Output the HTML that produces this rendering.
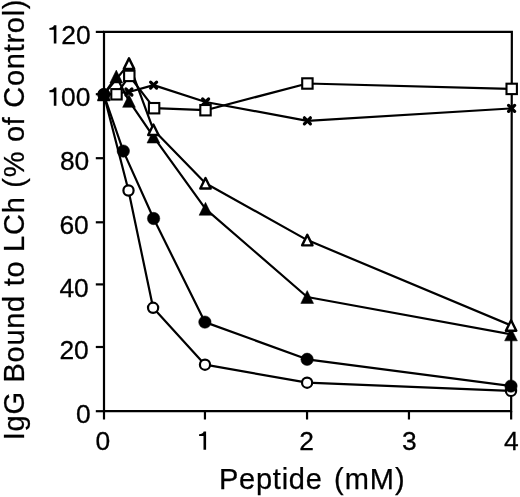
<!DOCTYPE html>
<html><head><meta charset="utf-8"><style>
html,body{margin:0;padding:0;background:#fff;}
body{width:520px;height:497px;overflow:hidden;}
svg{display:block;will-change:transform;}
text{font-family:"Liberation Sans",sans-serif;fill:#000;}
.tl{font-size:26.4px;stroke:#000;stroke-width:0.3px;}
.tt{stroke:#000;stroke-width:0.25px;}
.ln{fill:none;stroke:#000;stroke-width:2.20;stroke-linejoin:round;}
.os{fill:#fff;stroke:#000;stroke-width:2.10;stroke-linejoin:miter;}
.oc{fill:#fff;stroke:#000;stroke-width:2.20;}
.ot{fill:#fff;stroke:#000;stroke-width:2.40;stroke-linejoin:round;}
.fm{fill:#000;stroke:#000;stroke-width:0.5;stroke-linejoin:round;}
.cx{fill:none;stroke:#000;stroke-width:3.20;stroke-linecap:round;}
.ax{fill:none;stroke:#000;stroke-width:2.2;stroke-linecap:butt;}
</style></head><body>
<svg width="520" height="497" viewBox="0 0 520 497">

<path class="ax" d="M104.0 31.9H511.85L511.15 411.1H104.0Z"/>
<path class="ax" d="M95.8 31.9H104.0"/>
<text x="90.6" y="43.5" class="tl" text-anchor="end">20</text>
<path transform="translate(56.40 43.50)" d="M0 -18.3L0 0L-2.6 0L-2.6 -13.7L-7.0 -13.7L-7.0 -15.5C-4.6 -15.6 -3.0 -16.4 -2.4 -18.3Z" fill="#000"/>
<path class="ax" d="M95.8 94.2H104.0"/>
<text x="90.4" y="105.8" class="tl" text-anchor="end">00</text>
<path transform="translate(56.40 105.85)" d="M0 -18.3L0 0L-2.6 0L-2.6 -13.7L-7.0 -13.7L-7.0 -15.5C-4.6 -15.6 -3.0 -16.4 -2.4 -18.3Z" fill="#000"/>
<path class="ax" d="M95.8 158.2H104.0"/>
<text x="89.3" y="169.8" class="tl" text-anchor="end">80</text>
<path class="ax" d="M95.8 222.3H104.0"/>
<text x="88.8" y="233.9" class="tl" text-anchor="end">60</text>
<path class="ax" d="M95.8 284.4H104.0"/>
<text x="88.8" y="296.8" class="tl" text-anchor="end">40</text>
<path class="ax" d="M95.8 347.0H104.0"/>
<text x="88.8" y="358.6" class="tl" text-anchor="end">20</text>
<path class="ax" d="M95.8 411.2H104.0"/>
<text x="90.6" y="422.8" class="tl" text-anchor="end">0</text>
<path class="ax" d="M104.00 411.1V419.5"/>
<text x="102.80" y="449.6" class="tl" text-anchor="middle">0</text>
<path class="ax" d="M204.95 411.1V419.5"/>
<path transform="translate(206.10 449.70)" d="M0 -18.3L0 0L-2.6 0L-2.6 -13.7L-7.0 -13.7L-7.0 -15.5C-4.6 -15.6 -3.0 -16.4 -2.4 -18.3Z" fill="#000"/>
<path class="ax" d="M307.05 411.1V419.5"/>
<text x="306.65" y="449.6" class="tl" text-anchor="middle">2</text>
<path class="ax" d="M408.95 411.1V419.5"/>
<text x="409.25" y="449.6" class="tl" text-anchor="middle">3</text>
<path class="ax" d="M511.15 411.1V419.5"/>
<text x="511.45" y="449.6" class="tl" text-anchor="middle">4</text>
<text x="219" y="489.3" font-size="29" letter-spacing="0.75" class="tt">Peptide</text>
<text x="334" y="489.3" font-size="29" letter-spacing="1" class="tt">(mM)</text>
<text transform="translate(23.5 440.2) rotate(-90)" font-size="29" letter-spacing="0.72" class="tt">IgG Bound to LCh (% of Control)</text>
<g class="ln"><polyline points="103.8,94.5 116.5,94.3 129.3,75.9 154.1,108.2 205.5,110.2 307.4,83.5 511.7,88.9"/></g>
<g class="ln"><polyline points="103.8,94.5 128.9,92.0 153.6,85.1 205.6,102.0 307.4,120.8 511.6,108.4"/></g>
<g class="ln"><polyline points="103.8,94.5 129.0,63.6 153.4,129.8 205.5,183.3 307.3,240.1 511.1,325.5"/></g>
<g class="ln"><polyline points="103.8,94.5 116.3,76.5 129.0,100.9 153.4,136.6 205.5,208.8 307.2,297.0 511.0,334.4"/></g>
<g class="ln"><polyline points="103.8,94.5 123.3,151.1 153.6,218.5 204.9,322.1 307.1,359.3 511.0,386.1"/></g>
<g class="ln"><polyline points="103.8,94.5 128.5,190.5 153.1,307.8 205.0,364.7 307.1,382.7 511.0,390.9"/></g>
<path d="M100.80 91.50L106.80 97.50M106.80 91.50L100.80 97.50" class="cx"/>
<path d="M125.90 89.00L131.90 95.00M131.90 89.00L125.90 95.00" class="cx"/>
<path d="M150.60 82.10L156.60 88.10M156.60 82.10L150.60 88.10" class="cx"/>
<path d="M202.60 99.00L208.60 105.00M208.60 99.00L202.60 105.00" class="cx"/>
<path d="M304.40 117.80L310.40 123.80M310.40 117.80L304.40 123.80" class="cx"/>
<path d="M508.60 105.40L514.60 111.40M514.60 105.40L508.60 111.40" class="cx"/>
<rect x="111.30" y="89.10" width="10.40" height="10.40" class="os"/>
<rect x="124.10" y="70.70" width="10.40" height="10.40" class="os"/>
<rect x="148.90" y="103.00" width="10.40" height="10.40" class="os"/>
<rect x="200.30" y="105.00" width="10.40" height="10.40" class="os"/>
<rect x="302.20" y="78.30" width="10.40" height="10.40" class="os"/>
<rect x="506.50" y="83.70" width="10.40" height="10.40" class="os"/>
<polygon points="103.80,88.05 110.20,100.95 97.40,100.95" class="fm"/>
<polygon points="116.30,70.05 122.70,82.95 109.90,82.95" class="fm"/>
<polygon points="129.00,94.45 135.40,107.35 122.60,107.35" class="fm"/>
<polygon points="153.40,130.15 159.80,143.05 147.00,143.05" class="fm"/>
<polygon points="205.50,202.35 211.90,215.25 199.10,215.25" class="fm"/>
<polygon points="307.20,290.55 313.60,303.45 300.80,303.45" class="fm"/>
<polygon points="511.00,327.95 517.40,340.85 504.60,340.85" class="fm"/>
<polygon points="103.80,89.25 109.00,99.75 98.60,99.75" class="ot"/>
<polygon points="129.00,58.35 134.20,68.85 123.80,68.85" class="ot"/>
<polygon points="153.40,124.55 158.60,135.05 148.20,135.05" class="ot"/>
<polygon points="205.50,178.05 210.70,188.55 200.30,188.55" class="ot"/>
<polygon points="307.30,234.85 312.50,245.35 302.10,245.35" class="ot"/>
<polygon points="511.10,320.25 516.30,330.75 505.90,330.75" class="ot"/>
<circle cx="103.80" cy="94.50" r="5.10" class="oc"/>
<circle cx="128.50" cy="190.50" r="5.10" class="oc"/>
<circle cx="153.10" cy="307.80" r="5.10" class="oc"/>
<circle cx="205.00" cy="364.70" r="5.10" class="oc"/>
<circle cx="307.10" cy="382.70" r="5.10" class="oc"/>
<circle cx="511.00" cy="390.90" r="5.10" class="oc"/>
<circle cx="103.80" cy="94.50" r="6.20" class="fm"/>
<circle cx="123.30" cy="151.10" r="6.20" class="fm"/>
<circle cx="153.60" cy="218.50" r="6.20" class="fm"/>
<circle cx="204.90" cy="322.10" r="6.20" class="fm"/>
<circle cx="307.10" cy="359.30" r="6.20" class="fm"/>
<circle cx="511.00" cy="386.10" r="6.20" class="fm"/>
</svg></body></html>
